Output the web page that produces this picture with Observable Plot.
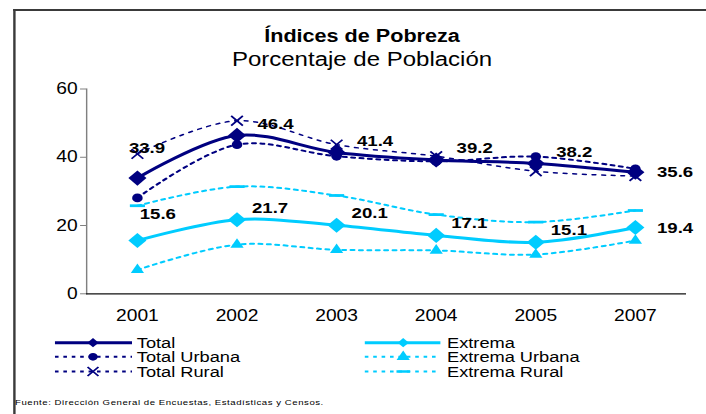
<!DOCTYPE html>
<html><head><meta charset="utf-8">
<script src="https://cdn.jsdelivr.net/npm/d3@7"></script>
<script src="https://cdn.jsdelivr.net/npm/@observablehq/plot@0.6"></script>
<style>
html,body{margin:0;padding:0;background:#fff;width:706px;height:414px;overflow:hidden;}
#wrap{position:absolute;left:0;top:0;width:588.33px;height:414px;transform:scaleX(1.2);transform-origin:0 0;font-family:"Liberation Sans",Arial,sans-serif;color:#000;}
#bt{position:absolute;left:11.1px;top:9.3px;width:578px;height:1.8px;background:#3a3a3a;}
#bl{position:absolute;left:11.1px;top:9.3px;width:1.5px;height:410px;background:#3a3a3a;}
.ttl{position:absolute;left:301.7px;transform:translateX(-50%);white-space:nowrap;line-height:1;}
#title{top:26.5px;font-size:18px;font-weight:bold;}
#subtitle{top:48.5px;font-size:20px;}
#chart{position:absolute;left:0;top:70px;}
#legend{position:absolute;left:0;top:330px;}
#source{position:absolute;left:12.5px;top:399px;font-size:8px;letter-spacing:0.45px;white-space:nowrap;line-height:1;}
</style></head>
<body>
<div id="wrap">
  <div id="bt"></div><div id="bl"></div>
  <div class="ttl" id="title">Índices de Pobreza</div>
  <div class="ttl" id="subtitle">Porcentaje de Población</div>
  <div id="chart"></div>
  <div id="legend"></div>
  <div id="source">Fuente: Dirección General de Encuestas, Estadísticas y Censos.</div>
</div>
<script>
// ---- data ----
const years = ["2001", "2002", "2003", "2004", "2005", "2007"];
const total = [33.9, 46.4, 41.4, 39.2, 38.2, 35.6];
const totalUrbana = [28.1, 43.7, 40.3, 38.8, 40.2, 36.6];
const totalRural = [41.0, 50.7, 43.7, 40.3, 35.9, 34.5];
const extrema = [15.6, 21.7, 20.1, 17.1, 15.1, 19.4];
const extremaUrbana = [7.0, 14.4, 12.9, 12.7, 11.5, 15.6];
const extremaRural = [25.8, 31.4, 28.8, 23.2, 21.0, 24.4];
const yTicks = [0, 20, 40, 60];
const seriesNames = ["Total", "Total Urbana", "Total Rural", "Extrema", "Extrema Urbana", "Extrema Rural"];
const seriesValues = [total, totalUrbana, totalRural, extrema, extremaUrbana, extremaRural];
const labelledSeries = ["Total", "Extrema"];

// ---- styles ----
const NAVY = "#000080", SKY = "#00CCFF";
const dashSymbol = {
  draw(ctx, size) {
    const r = Math.sqrt(size / Math.PI);
    ctx.rect(-r, -r * 0.22, 2 * r, r * 0.44);
  }
};
const styles = {
  "Total":          {color: NAVY, width: 3,   dash: null,  symbol: "diamond2", d3s: d3.symbolDiamond2, r: 6.8, lr: 4.2, stroked: false, first: [8, -30], mid: [17, -11.5]},
  "Total Urbana":   {color: NAVY, width: 2,   dash: "3,4", symbol: "circle",   d3s: d3.symbolCircle,   r: 4.4, lr: 3.9, stroked: false},
  "Total Rural":    {color: NAVY, width: 1.5, dash: "3,5", symbol: "times",    d3s: d3.symbolTimes,    r: 4.5, lr: 4.2, stroked: true},
  "Extrema":        {color: SKY,  width: 3,   dash: null,  symbol: "diamond2", d3s: d3.symbolDiamond2, r: 6.8, lr: 4.2, stroked: false, first: [17, -27], mid: [12.5, -12]},
  "Extrema Urbana": {color: SKY,  width: 2,   dash: "3,4", symbol: "triangle", d3s: d3.symbolTriangle, r: 4.1, lr: 4.1, stroked: false},
  "Extrema Rural":  {color: SKY,  width: 2,   dash: "3,4", symbol: dashSymbol, d3s: dashSymbol,        r: 6.3, lr: 5.6, stroked: false}
};

const rows = seriesNames.flatMap((s, i) => years.map((y, j) => ({series: s, year: y, value: seriesValues[i][j], idx: j})));
const bySeries = s => rows.filter(d => d.series === s);

const drawOrder = ["Extrema Urbana", "Extrema Rural", "Total Urbana", "Total Rural", "Extrema", "Total"];
const lineMarks = drawOrder.map(s => Plot.line(bySeries(s), {
  x: "year", y: "value", stroke: styles[s].color, strokeWidth: styles[s].width,
  strokeDasharray: styles[s].dash || undefined, curve: "catmull-rom"
}));
const dotMarks = drawOrder.map(s => {
  const st = styles[s];
  return Plot.dot(bySeries(s), st.stroked
    ? {x: "year", y: "value", symbol: st.symbol, r: st.r, stroke: st.color, strokeWidth: 1.6, fill: "none"}
    : {x: "year", y: "value", symbol: st.symbol, r: st.r, fill: st.color, stroke: "none"});
});
const labelMarks = labelledSeries.flatMap(s => {
  const st = styles[s];
  const d = bySeries(s);
  const common = {x: "year", y: "value", text: v => v.value.toFixed(1), fontWeight: "bold", fontSize: 15.5, fill: "#000"};
  return [
    Plot.text(d.filter(v => v.idx === 0), {...common, textAnchor: "middle", dx: st.first[0], dy: st.first[1]}),
    Plot.text(d.filter(v => v.idx > 0 && v.idx < years.length - 1), {...common, textAnchor: "start", dx: st.mid[0], dy: st.mid[1]}),
    Plot.text(d.filter(v => v.idx === years.length - 1), {...common, textAnchor: "start", dx: 18, dy: 0})
  ];
});

const chart = Plot.plot({
  width: 588.33, height: 260,
  marginLeft: 71.7, marginRight: 16.63, marginTop: 18.5, marginBottom: 36.7,
  x: {type: "point", domain: years, padding: 0.5, label: null},
  y: {domain: [0, 60], label: null},
  style: {fontFamily: "'Liberation Sans', Arial, sans-serif", color: "#000", background: "transparent", overflow: "visible"},
  marks: [
    Plot.frame({anchor: "left", stroke: "#808080", strokeWidth: 1.2}),
    Plot.axisY({ticks: yTicks, tickSize: 5, tickPadding: 2.5, stroke: "#808080", fontSize: 16, label: null}),
    Plot.axisX({tickSize: 0, tickPadding: 16, fontSize: 16, label: null}),
    ...lineMarks,
    Plot.ruleY([0], {stroke: "#111", strokeWidth: 1.3}),
    ...dotMarks,
    ...labelMarks
  ]
});
document.getElementById("chart").appendChild(chart);

// ---- legend ----
const legendCols = [
  {names: ["Total", "Total Urbana", "Total Rural"], x1: 45.8, x2: 110, xm: 77.5, xt: 114},
  {names: ["Extrema", "Extrema Urbana", "Extrema Rural"], x1: 304, x2: 367, xm: 336, xt: 372.5}
];
const rowY = [12.7, 26.8, 41.5];
const lsvg = d3.select("#legend").append("svg").attr("width", 588.33).attr("height", 60)
  .style("font-family", "'Liberation Sans', Arial, sans-serif");
legendCols.forEach(col => col.names.forEach((s, i) => {
  const st = styles[s];
  const g = lsvg.append("g").attr("transform", `translate(0,${rowY[i]})`);
  g.append("line").attr("x1", col.x1).attr("x2", col.x2).attr("y1", 0).attr("y2", 0)
    .attr("stroke", st.color).attr("stroke-width", st.width === 3 ? 3 : 2)
    .attr("stroke-dasharray", st.dash ? "3,4" : null);
  const p = g.append("path").attr("transform", `translate(${col.xm},0)`)
    .attr("d", d3.symbol(st.d3s, Math.PI * st.lr * st.lr)());
  if (st.stroked) p.attr("fill", "none").attr("stroke", st.color).attr("stroke-width", 1.6);
  else p.attr("fill", st.color);
  g.append("text").attr("x", col.xt).attr("y", 0).attr("dy", "0.36em")
    .attr("font-size", 15.2).attr("fill", "#000").text(s);
}));
</script>
</body></html>
